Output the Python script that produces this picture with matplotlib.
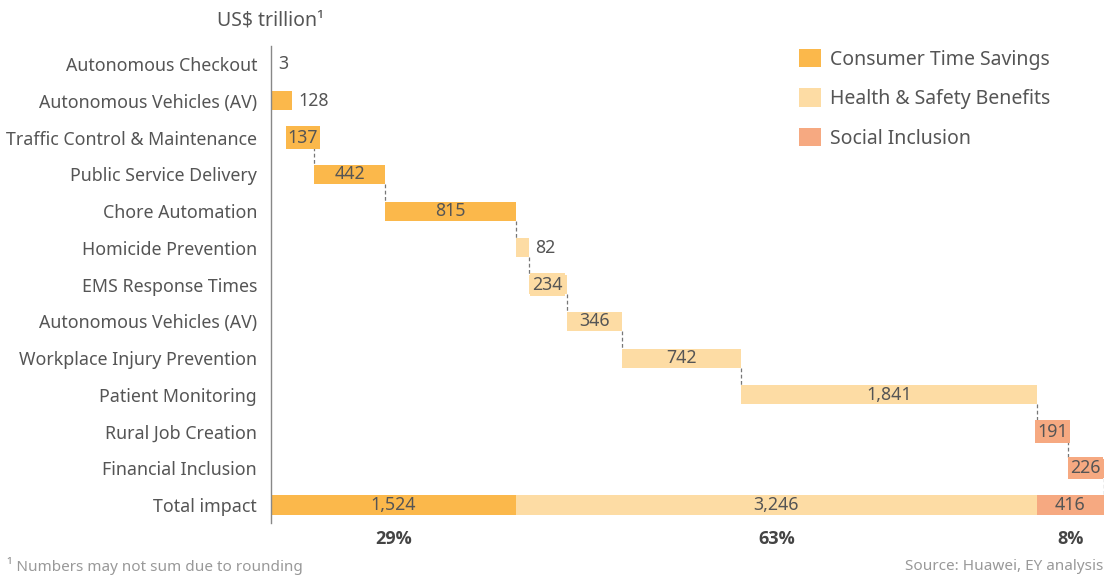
import matplotlib.pyplot as plt
from matplotlib.patches import Patch

# data
categories = [
    "Autonomous Checkout",
    "Autonomous Vehicles (AV)",
    "Traffic Control & Maintenance",
    "Public Service Delivery",
    "Chore Automation",
    "Homicide Prevention",
    "EMS Response Times",
    "Autonomous Vehicles (AV)",
    "Workplace Injury Prevention",
    "Patient Monitoring",
    "Rural Job Creation",
    "Financial Inclusion",
]
values = [3, 128, 137, 442, 815, 82, 234, 346, 742, 1841, 191, 226]
groups = [0, 0, 0, 0, 0, 1, 1, 1, 1, 1, 2, 2]
group_names = ["Consumer Time Savings", "Health & Safety Benefits", "Social Inclusion"]
group_totals = [1524, 3246, 416]
group_pcts = ["29%", "63%", "8%"]
total_label = "Total impact"

colors = ["#FBB84B", "#FDDCA4", "#F6A981"]
txt = "#555555"
plt.rcParams["font.family"] = ["Noto Sans", "DejaVu Sans"]

fig = plt.figure(figsize=(11.15, 5.79), dpi=100)
ax = fig.add_axes([0.243, 0.096, 0.747, 0.825])

n = len(values)
bar_h = 0.52
total = sum(group_totals)

# waterfall steps
start = 0
for i, v in enumerate(values):
    c = colors[groups[i]]
    ax.barh(i, v, left=start, height=bar_h, color=c, linewidth=0)
    end = start + v
    if v < 100 or i == 1:
        ax.text(end + 40, i, f"{v:,}", va="center", ha="left", fontsize=12.8, color=txt)
    elif v < 250:
        ax.text(start + v / 2, i, f"{v:,}", va="center", ha="center", fontsize=12.8,
                color=txt, bbox=dict(facecolor=c, edgecolor="none", pad=1.5))
    else:
        ax.text(start + v / 2, i, f"{v:,}", va="center", ha="center", fontsize=12.8, color=txt)
    if i >= 2:
        ax.plot([end, end], [i + bar_h / 2, i + 1 - bar_h / 2], linestyle=(0, (3, 2)),
                color="#777777", linewidth=0.9, zorder=0)
    start = end

# total bar split by group
left = 0
for g, gv in enumerate(group_totals):
    ax.barh(n, gv, left=left, height=bar_h, color=colors[g], linewidth=0)
    ax.text(left + gv / 2, n, f"{gv:,}", va="center", ha="center", fontsize=12.8, color=txt)
    ax.text(left + gv / 2, n + 0.92, group_pcts[g], va="center", ha="center",
            fontsize=13, fontweight="bold", color="#444444",
            family=["Open Sans", "DejaVu Sans"])
    left += gv

ax.set_ylim(n + 0.5, -0.5)
ax.set_xlim(0, total)
ax.set_yticks(range(n + 1))
ax.set_yticklabels(categories + [total_label], fontsize=12.8, color=txt)
ax.tick_params(axis="y", length=0, pad=10)
ax.set_xticks([])
for s in ["top", "right", "bottom"]:
    ax.spines[s].set_visible(False)
ax.spines["left"].set_color("#888888")
ax.spines["left"].set_linewidth(1.0)

handles = [Patch(facecolor=colors[g], edgecolor="none") for g in range(3)]
fig.legend(handles, group_names, loc="upper left", bbox_to_anchor=(0.701, 0.946),
           frameon=False, fontsize=14, labelcolor=txt, handlelength=1.1, handleheight=1.1,
           handletextpad=0.5, labelspacing=0.95)

fig.text(0.195, 0.965, "US$ trillion\u00b9", fontsize=14, color=txt, va="center", ha="left")
fig.text(0.006, 0.022, "\u00b9 Numbers may not sum due to rounding", fontsize=11,
         color="#999999", va="center", ha="left")
fig.text(0.99, 0.022, "Source: Huawei, EY analysis", fontsize=11,
         color="#999999", va="center", ha="right")

plt.savefig("out.png", dpi=100)
plt.close()
